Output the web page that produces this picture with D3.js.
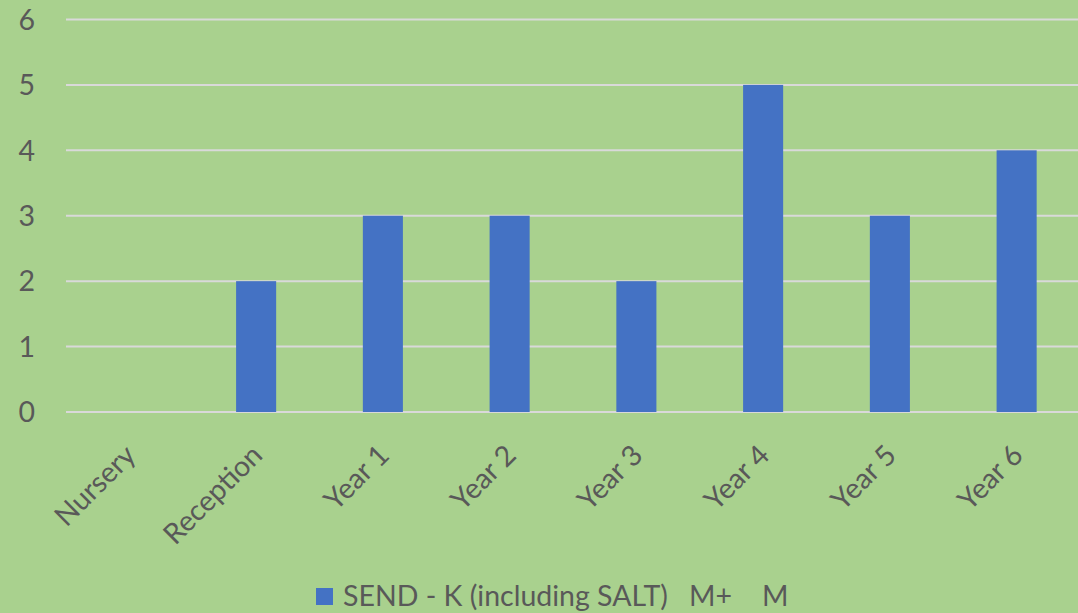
<!DOCTYPE html>
<html>
<head>
<meta charset="utf-8">
<script src="https://cdn.jsdelivr.net/npm/d3@7"></script>
<style>
  html, body { margin: 0; padding: 0; background: #a9d18e; }
  svg { display: block; }
  text { font-family: Lato, "Open Sans", sans-serif; fill: #595959; }
</style>
</head>
<body>
<svg id="chart" width="1078" height="613"></svg>
<script>
const categories = ['Nursery', 'Reception', 'Year 1', 'Year 2', 'Year 3', 'Year 4', 'Year 5', 'Year 6']
const sendValues = [0, 2, 3, 3, 2, 5, 3, 4]
const yTicks = [0, 1, 2, 3, 4, 5, 6]
const legendLabels = ['SEND - K (including SALT)', 'M+', 'M']

const width = 1078
const height = 613
const margin = { top: 19.5, right: -2, bottom: 201, left: 66 }
const fontSize = '28.5px'

const svg = d3.select('#chart')

svg.append('rect')
  .attr('width', width)
  .attr('height', height)
  .attr('fill', '#a9d18e')

const x = d3.scaleBand()
  .domain(categories)
  .range([margin.left, width - margin.right])
  .paddingInner(0.684)
  .paddingOuter(0.342)

const y = d3.scaleLinear()
  .domain([0, 6])
  .range([height - margin.bottom, margin.top])

// gridlines
svg.append('g')
  .selectAll('line')
  .data(yTicks)
  .enter()
  .append('line')
  .attr('x1', margin.left)
  .attr('x2', width)
  .attr('y1', d => y(d))
  .attr('y2', d => y(d))
  .attr('stroke', '#d9d9d9')
  .attr('stroke-width', 2)

// y tick labels
svg.append('g')
  .selectAll('text')
  .data(yTicks)
  .enter()
  .append('text')
  .attr('x', 35)
  .attr('y', d => y(d))
  .attr('dy', '0.36em')
  .attr('text-anchor', 'end')
  .style('font-size', fontSize)
  .text(d => d)

// bars
svg.append('g')
  .selectAll('rect')
  .data(sendValues)
  .enter()
  .append('rect')
  .attr('x', (d, i) => x(categories[i]))
  .attr('y', d => y(d))
  .attr('width', x.bandwidth())
  .attr('height', d => y(0) - y(d))
  .attr('fill', '#4472c4')

// category labels, rotated
svg.append('g')
  .selectAll('text')
  .data(categories)
  .enter()
  .append('text')
  .attr('transform', d => {
    const cx = x(d) + x.bandwidth() / 2
    return 'translate(' + (cx + 8) + ',' + 457 + ') rotate(-45)'
  })
  .attr('text-anchor', 'end')
  .style('font-size', fontSize)
  .text(d => d)

// legend
const legend = svg.append('g')
legend.append('rect')
  .attr('x', 316)
  .attr('y', 588)
  .attr('width', 17)
  .attr('height', 17)
  .attr('fill', '#4472c4')

const legendX = [343, 689, 762]
legend.selectAll('text')
  .data(legendLabels)
  .enter()
  .append('text')
  .attr('x', (d, i) => legendX[i])
  .attr('y', 606)
  .style('font-size', fontSize)
  .text(d => d)
</script>
</body>
</html>
